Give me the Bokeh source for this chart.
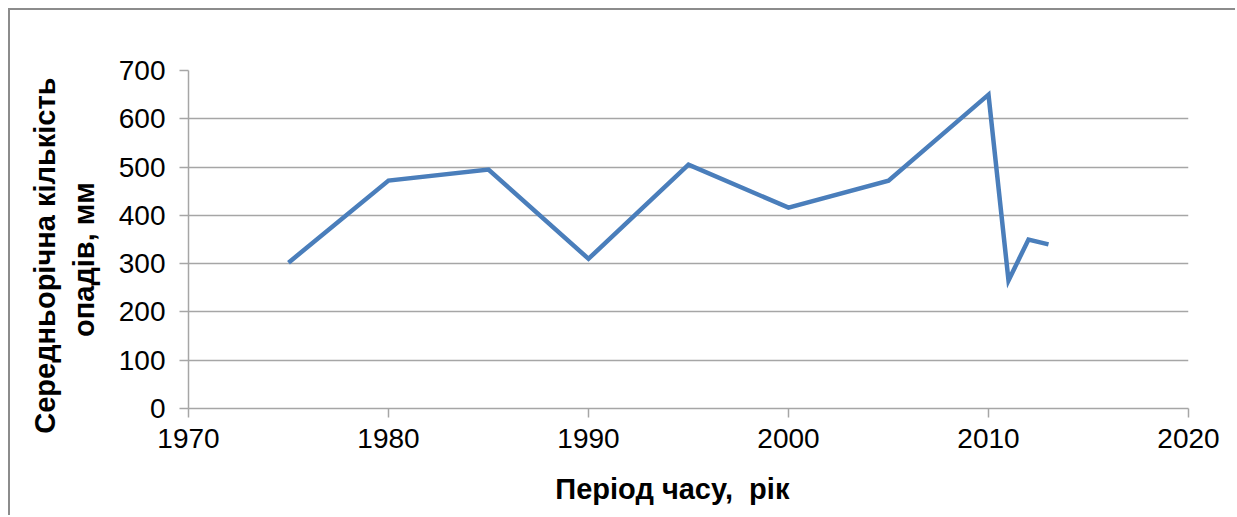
from bokeh.plotting import figure
from bokeh.embed import file_html
from bokeh.resources import INLINE
from bokeh.models import Range1d, FixedTicker

years = [1975, 1980, 1985, 1990, 1995, 2000, 2005, 2010, 2011, 2012, 2013]
precip = [302, 472, 495, 310, 505, 416, 472, 650, 265, 350, 340]
x_ticks = [1970, 1980, 1990, 2000, 2010, 2020]
y_ticks = [0, 100, 200, 300, 400, 500, 600, 700]
NB = "\u00a0"
x_title = "Період часу," + NB + NB + "рік" + NB * 4
y_title = "Середньорічна кількість" + NB * 4 + "\n" + "опадів, мм" + NB * 5

FONT = "Liberation Sans"
GRID = "#a6a6a6"

p = figure(width=1227, height=507, output_backend="svg", toolbar_location=None,
           x_range=Range1d(1970, 2020), y_range=Range1d(0, 700),
           min_border_left=178, min_border_right=49, min_border_top=60, min_border_bottom=109)
p.styles = {"border-left": "2px solid #8c8c8c", "border-top": "2px solid #8c8c8c",
            "margin-left": "8px", "margin-top": "8px"}
p.outline_line_color = None

p.line(years, precip, line_color="#4a7ebb", line_width=4.5, line_join="miter")

p.xgrid.visible = False
p.ygrid.grid_line_color = GRID
p.ygrid.grid_line_width = 1.5
p.ygrid.ticker = FixedTicker(ticks=y_ticks)

for ax in (p.xaxis[0], p.yaxis[0]):
    ax.axis_line_color = GRID
    ax.axis_line_width = 1.5
    ax.major_tick_line_color = GRID
    ax.major_tick_line_width = 1.5
    ax.major_tick_in = 0
    ax.major_tick_out = 9
    ax.minor_tick_line_color = None
    ax.major_label_text_font = FONT
    ax.major_label_text_font_size = "28px"
    ax.major_label_text_color = "#000000"
    ax.axis_label_text_font = FONT
    ax.axis_label_text_font_size = "29px"
    ax.axis_label_text_font_style = "bold"
    ax.axis_label_text_color = "#000000"

p.xaxis[0].ticker = FixedTicker(ticks=x_ticks)
p.yaxis[0].ticker = FixedTicker(ticks=y_ticks)
p.xaxis[0].major_label_standoff = 11
p.yaxis[0].major_label_standoff = 14
p.xaxis[0].axis_label = x_title
p.yaxis[0].axis_label = y_title
p.xaxis[0].axis_label_standoff = 22
p.yaxis[0].axis_label_standoff = 16

open("out.html", "w").write(file_html(p, INLINE))
